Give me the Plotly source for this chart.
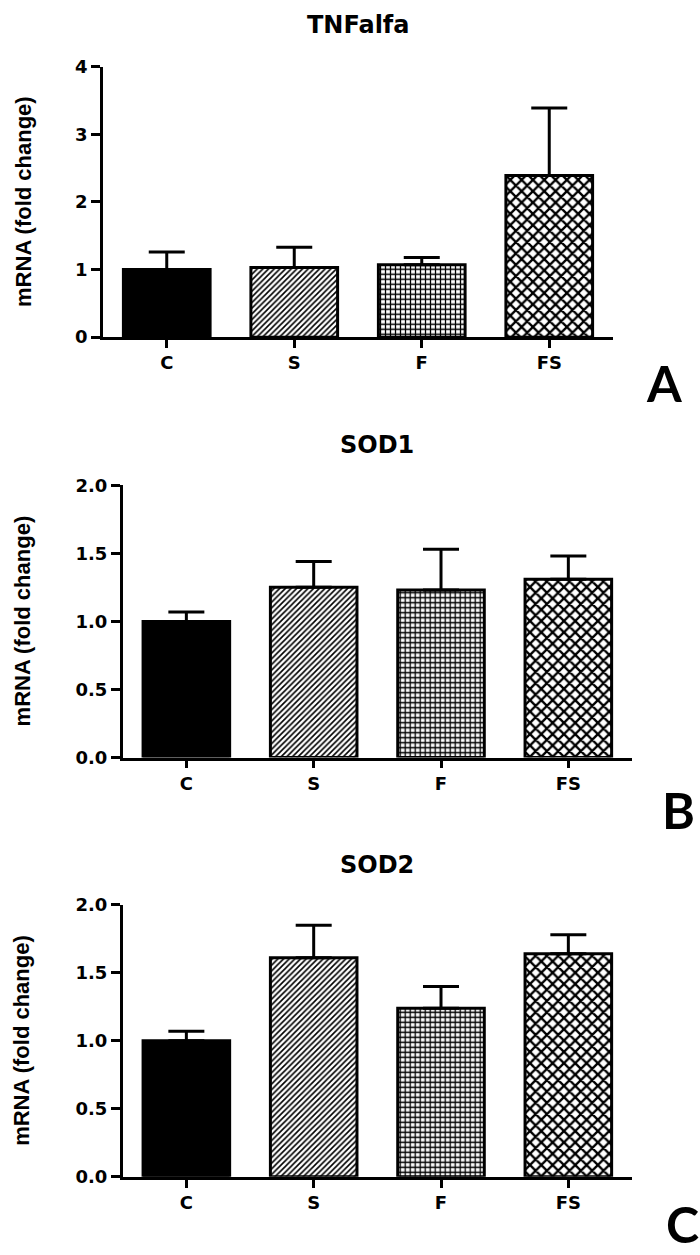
import plotly.graph_objects as go

W, H = 700, 1255

categories = ["C", "S", "F", "FS"]

tnf_mean = [1.00, 1.03, 1.07, 2.39]
tnf_err = [0.26, 0.30, 0.11, 1.00]

sod1_mean = [1.00, 1.25, 1.23, 1.31]
sod1_err = [0.07, 0.19, 0.30, 0.17]

sod2_mean = [1.00, 1.61, 1.24, 1.64]
sod2_err = [0.07, 0.24, 0.16, 0.14]

titles = ["TNFalfa", "SOD1", "SOD2"]
panel_letters = ["A", "B", "C"]
y_title = "mRNA (fold change)"

# per-category styles: (fill, pattern shape, pattern size, solidity)
styles = [
    ("black", "", 8, 0.3),
    ("white", "/", 4, 0.4),
    ("white", "+", 5, 0.45),
    ("white", "x", 8, 0.5),
]


def px(x):
    return x / W


def py(y):
    return 1 - y / H


panels = [
    dict(x0=103, x1=613, ytop=56.7, ybot=331.7, rng=[0, 4], dtick=1, fmt="d",
         mean=tnf_mean, err=tnf_err, title_y=14, title_x=358,
         letter_x=684, letter_y=378, ytitle_x=24),
    dict(x0=122.7, x1=632, ytop=482.3, ybot=759.3, rng=[0, 2], dtick=0.5, fmt=".1f",
         mean=sod1_mean, err=sod1_err, title_y=441, title_x=377,
         letter_x=697, letter_y=813, ytitle_x=22),
    dict(x0=122.7, x1=632, ytop=909, ybot=1185.7, rng=[0, 2], dtick=0.5, fmt=".1f",
         mean=sod2_mean, err=sod2_err, title_y=869, title_x=377,
         letter_x=701, letter_y=1234, ytitle_x=22),
]

fig = go.Figure()
tick_font = dict(family="DejaVu Sans", size=18, color="black", weight="bold")
annotations = []

for i, p in enumerate(panels):
    n = "" if i == 0 else str(i + 1)
    for j, cat in enumerate(categories):
        fill, shape, size, sol = styles[j]
        marker = dict(color=fill, line=dict(color="black", width=3))
        if shape:
            marker["pattern"] = dict(shape=shape, fgcolor="black", bgcolor="white",
                                     size=size, solidity=sol, fillmode="replace")
        fig.add_trace(go.Bar(
            x=[cat], y=[p["mean"][j]],
            xaxis="x" + n, yaxis="y" + n,
            width=0.68,
            marker=marker,
            error_y=dict(type="data", symmetric=False, array=[p["err"][j]],
                         arrayminus=[0], color="black", thickness=3, width=18),
            showlegend=False,
        ))
    fig.update_layout(**{
        "xaxis" + n: dict(
            domain=[px(p["x0"]), px(p["x1"])], anchor="y" + n,
            categoryorder="array", categoryarray=categories,
            range=[-0.5, 3.5], showline=True, linecolor="black", linewidth=2.5,
            ticks="outside", ticklen=8, tickwidth=2.5, tickcolor="black",
            tickfont=tick_font, showgrid=False, zeroline=False, fixedrange=True,
        ),
        "yaxis" + n: dict(
            domain=[py(p["ybot"]), py(p["ytop"])], anchor="x" + n,
            range=p["rng"], dtick=p["dtick"], tick0=0, tickformat=p["fmt"],
            showline=True, linecolor="black", linewidth=2.5,
            ticks="outside", ticklen=9, tickwidth=2.5, tickcolor="black",
            tickfont=tick_font, showgrid=False, zeroline=False, fixedrange=True,
        ),
    })
    annotations.append(dict(
        text=titles[i], x=px(p["title_x"]), y=py(p["title_y"]),
        xref="paper", yref="paper", xanchor="center", yanchor="middle",
        showarrow=False,
        font=dict(family="DejaVu Sans", size=24, color="black", weight="bold"),
    ))
    annotations.append(dict(
        text=y_title, x=px(p["ytitle_x"]), y=py((p["ytop"] + p["ybot"]) / 2),
        xref="paper", yref="paper", xanchor="center", yanchor="middle",
        textangle=-90, showarrow=False,
        font=dict(family="Liberation Sans", size=22, color="black", weight="bold"),
    ))
    annotations.append(dict(
        text=panel_letters[i], x=px(p["letter_x"]), y=py(p["letter_y"]),
        xref="paper", yref="paper", xanchor="right", yanchor="middle",
        showarrow=False,
        font=dict(family="Lato", size=50, color="black", weight="bold"),
    ))

fig.update_layout(
    width=W, height=H,
    margin=dict(l=0, r=0, t=0, b=0),
    paper_bgcolor="white", plot_bgcolor="white",
    annotations=annotations,
    barmode="overlay",
)

fig.write_html("out.html", config={"responsive": False, "displayModeBar": False},
               post_script="document.body.style.margin='0';document.body.style.overflow='hidden';")
